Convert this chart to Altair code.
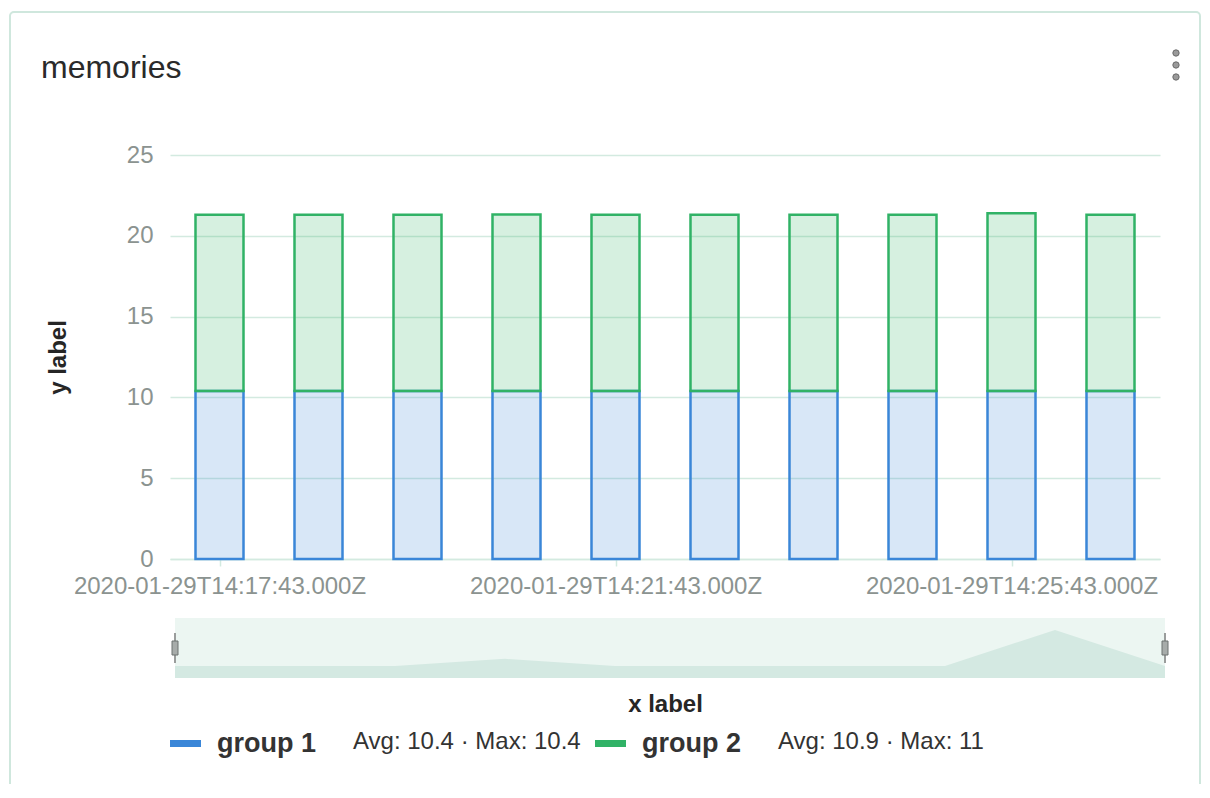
import altair as alt
import pandas as pd

# ---------------- data ----------------
times = [
    "2020-01-29T14:17:43.000Z", "2020-01-29T14:18:43.000Z", "2020-01-29T14:19:43.000Z",
    "2020-01-29T14:20:43.000Z", "2020-01-29T14:21:43.000Z", "2020-01-29T14:22:43.000Z",
    "2020-01-29T14:23:43.000Z", "2020-01-29T14:24:43.000Z", "2020-01-29T14:25:43.000Z",
    "2020-01-29T14:26:43.000Z",
]
group_names = ["group 1", "group 2"]
group1_values = [10.4, 10.4, 10.4, 10.4, 10.4, 10.4, 10.4, 10.4, 10.4, 10.4]
group2_values = [10.9, 10.9, 10.9, 10.92, 10.9, 10.9, 10.9, 10.9, 11.0, 10.9]
y_ticks = [0, 5, 10, 15, 20, 25]
x_tick_times = ["2020-01-29T14:17:43.000Z", "2020-01-29T14:21:43.000Z", "2020-01-29T14:25:43.000Z"]
chart_title = "memories"
x_title = "x label"
y_title = "y label"

# ---------------- styles / layout ----------------
series_colors = ["#3a86d8", "#30b266"]
mint = "#d3eae0"
grey = "#8b9390"
dark = "#262626"
FONT = "Liberation Sans"


def ms(s):
    return int(pd.Timestamp(s).value // 10**6)


half_step = 30 * 1000
x_domain = [ms(times[0]) - half_step, ms(times[-1]) + half_step]
x_tick_ms = [ms(t) for t in x_tick_times]

rows = []
for gi, (name, vals) in enumerate(zip(group_names, [group1_values, group2_values])):
    for t, v in zip(times, vals):
        rows.append({"time": t, "group": name, "value": v, "order": gi})
bars_df = pd.DataFrame(rows)

nav_df = pd.DataFrame({
    "time": times,
    "total": [a + b for a, b in zip(group1_values, group2_values)],
})
nav_domain = [21.267, 21.433]

legend_rows = []
for name, vals in zip(group_names, [group1_values, group2_values]):
    avg = sum(vals) / len(vals)
    mx = max(vals)
    legend_rows.append({"name": name, "stats": f"Avg: {avg:.1f} · Max: {mx:g}"})

one = alt.Data(values=[{"k": 1}])

# card outline
card = alt.Chart(one).mark_rect(
    fill="white", fillOpacity=0, stroke="#cfe7dd", strokeWidth=2, cornerRadius=4
).encode(x=alt.value(-160), x2=alt.value(1030), y=alt.value(-143), y2=alt.value(640))

# bars
color_scale = alt.Scale(domain=group_names, range=series_colors)
bars = alt.Chart(bars_df).mark_bar(size=48, strokeWidth=2.5, fillOpacity=0.2).encode(
    x=alt.X(
        "time:T",
        scale=alt.Scale(domain=x_domain, nice=False, padding=0),
        axis=alt.Axis(
            values=x_tick_ms,
            labelExpr="utcFormat(datum.value, '%Y-%m-%dT%H:%M:%S.%LZ')",
            title=x_title, grid=False, tickSize=7, tickColor=mint, tickWidth=1.5,
            domainColor=mint, domainWidth=1.5, labelFontSize=24, labelColor=grey,
            labelPadding=8, labelFlush=False, labelOverlap=False, labelLimit=0,
            titleFontSize=24, titleFontWeight="bold", titleColor=dark,
            titleY=145, titleBaseline="middle",
        ),
    ),
    y=alt.Y(
        "value:Q", stack="zero",
        scale=alt.Scale(domain=[0, 25], nice=False, padding=0),
        axis=alt.Axis(
            values=y_ticks, grid=True, gridColor=mint, gridWidth=1.5, domain=False,
            ticks=False, tickSize=0, labelFontSize=24, labelColor=grey, labelPadding=17,
            title=y_title, titleFontSize=24, titleFontWeight="bold", titleColor=dark,
            titleX=-105, titleY=202, titleAngle=270, titleAlign="center",
            titleBaseline="alphabetic",
        ),
    ),
    fill=alt.Fill("group:N", scale=color_scale, legend=None),
    stroke=alt.Stroke("group:N", scale=color_scale, legend=None),
    order=alt.Order("order:Q"),
)

# navigator
nav_box = alt.Chart(one).mark_rect(fill="#ecf6f2").encode(
    x=alt.value(5), x2=alt.value(995), y=alt.value(463), y2=alt.value(523)
)
nav_area = alt.Chart(nav_df).mark_area(color="#d4e9e2", interpolate="linear").encode(
    x=alt.X("time:T", scale=alt.Scale(range=[5, 995], nice=False, padding=0), axis=None),
    y=alt.Y("total:Q", scale=alt.Scale(domain=nav_domain, range=[523, 463],
                                       nice=False, zero=False, clamp=True), axis=None),
    y2=alt.datum(nav_domain[0]),
)
handles = []
for hx in [5, 995]:
    handles.append(alt.Chart(one).mark_rule(color="#9a9d9c", strokeWidth=2).encode(
        x=alt.value(hx), y=alt.value(478), y2=alt.value(508)))
    handles.append(alt.Chart(one).mark_rect(fill="#a7acaa", stroke="#6d7270", strokeWidth=1).encode(
        x=alt.value(hx - 3), x2=alt.value(hx + 3), y=alt.value(486), y2=alt.value(500)))

# legend
legend_layers = []
for i, row in enumerate(legend_rows):
    x0 = 425 * i
    d = alt.Data(values=[row])
    legend_layers.append(alt.Chart(d).mark_rect(color=series_colors[i]).encode(
        x=alt.value(x0), x2=alt.value(x0 + 31), y=alt.value(585), y2=alt.value(592)))
    legend_layers.append(alt.Chart(d).mark_text(
        align="left", baseline="alphabetic", fontSize=27, fontWeight="bold", color="#333333", font=FONT
    ).encode(x=alt.value(x0 + 47), y=alt.value(597), text=alt.Text("name:N")))
    legend_layers.append(alt.Chart(d).mark_text(
        align="left", baseline="alphabetic", fontSize=24, color="#333333", font=FONT
    ).encode(x=alt.value(x0 + 183), y=alt.value(594), text=alt.Text("stats:N")))

# title and menu dots
title_layer = alt.Chart(alt.Data(values=[{"t": chart_title}])).mark_text(
    align="left", baseline="alphabetic", fontSize=32, color="#2a2a2a", font=FONT
).encode(x=alt.value(-129), y=alt.value(-77), text=alt.Text("t:N"))

dots = []
for dy in [-102, -90, -78]:
    dots.append(alt.Chart(one).mark_circle(size=40, color="#9a9a9a", opacity=1,
                                           stroke="#6a6a6a", strokeWidth=1).encode(
        x=alt.value(1006), y=alt.value(dy)))

chart = alt.layer(
    card, nav_box, nav_area, *handles, bars, *legend_layers, title_layer, *dots
).resolve_scale(
    x="independent", y="independent"
).properties(
    width=990, height=404, autosize="none",
    padding={"left": 162, "top": 147, "right": 42, "bottom": 225},
    background="white",
).configure(
    font=FONT,
    view=alt.ViewConfig(stroke="transparent", strokeWidth=0),
)

chart.save("out.html", embed_options={"renderer": "svg", "actions": False})
